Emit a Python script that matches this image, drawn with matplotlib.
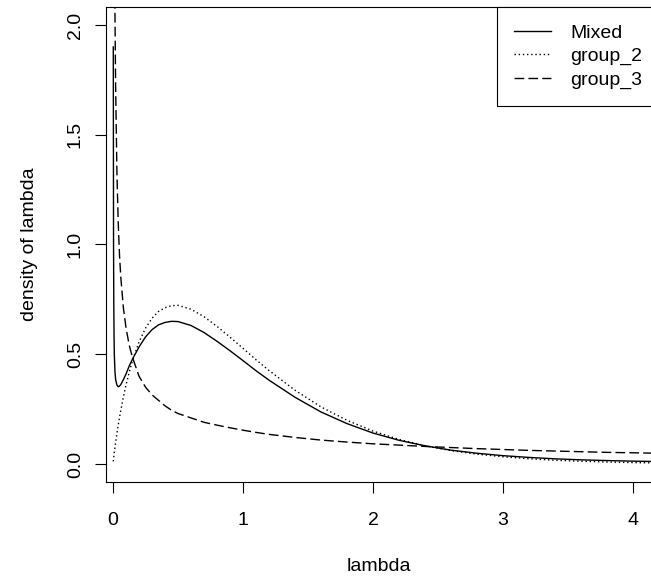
import matplotlib.pyplot as plt

# lambda grid and density values of the three curves
lam = [0.002, 0.004, 0.006, 0.008, 0.01, 0.015, 0.02, 0.03, 0.04, 0.05,
       0.06, 0.08, 0.10, 0.125, 0.15, 0.2, 0.25, 0.3, 0.35, 0.4,
       0.45, 0.5, 0.6, 0.7, 0.8, 0.9, 1.0, 1.1, 1.2, 1.4,
       1.6, 1.8, 2.0, 2.2, 2.4, 2.6, 2.8, 3.0, 3.2, 3.4,
       3.6, 3.8, 4.0, 4.2]

mixed = [1.90, 1.00, 0.72, 0.58, 0.50, 0.42, 0.385, 0.36, 0.352, 0.355,
         0.362, 0.385, 0.41, 0.447, 0.478, 0.533, 0.579, 0.612, 0.634, 0.645,
         0.650, 0.649, 0.631, 0.599, 0.559, 0.516, 0.471, 0.425, 0.382, 0.304,
         0.237, 0.184, 0.141, 0.108, 0.083, 0.063, 0.049, 0.038, 0.030, 0.0236,
         0.019, 0.0157, 0.013, 0.011]

group_2 = [0.012, 0.024, 0.034, 0.044, 0.054, 0.076, 0.098, 0.139, 0.177, 0.212,
           0.245, 0.306, 0.360, 0.419, 0.472, 0.556, 0.619, 0.664, 0.695, 0.712,
           0.721, 0.723, 0.705, 0.671, 0.627, 0.578, 0.527, 0.475, 0.426, 0.336,
           0.260, 0.199, 0.150, 0.112, 0.083, 0.061, 0.045, 0.033, 0.024, 0.017,
           0.0126, 0.0091, 0.0065, 0.0047]

group_3 = [7.0, 4.6, 3.6, 3.0, 2.6, 2.05, 1.72, 1.33, 1.10, 0.95,
           0.85, 0.71, 0.62, 0.54, 0.485, 0.40, 0.35, 0.315, 0.29, 0.265,
           0.245, 0.23, 0.21, 0.19, 0.177, 0.165, 0.154, 0.144, 0.135, 0.121,
           0.109, 0.100, 0.092, 0.086, 0.080, 0.075, 0.070, 0.066, 0.062, 0.059,
           0.056, 0.053, 0.051, 0.049]

x_ticks = [0, 1, 2, 3, 4]
y_ticks = [0.0, 0.5, 1.0, 1.5, 2.0]
y_tick_labels = ["0.0", "0.5", "1.0", "1.5", "2.0"]

plt.rcParams['font.family'] = ['Liberation Sans', 'DejaVu Sans']

fig = plt.figure(figsize=(6.51, 5.84), dpi=100)
ax = fig.add_axes([106 / 651, 102 / 584, 546.5 / 651, 475 / 584])

ax.plot(lam, mixed, color='black', lw=1.0, label='Mixed')
ax.plot(lam, group_2, color='black', lw=1.0, dashes=(1, 2), label='group_2')
ax.plot(lam, group_3, color='black', lw=1.0, dashes=(7, 3), label='group_3')

ax.set_xlim(-0.054, 4.15)
ax.set_ylim(-0.082, 2.082)
ax.set_xticks(x_ticks)
ax.set_yticks(y_ticks)
ax.set_yticklabels(y_tick_labels, rotation=90, va='center')
ax.tick_params(direction='out', length=8, width=0.8, labelsize=14)
ax.tick_params(axis='x', pad=13.5)
ax.tick_params(axis='y', pad=8)
for sp in ax.spines.values():
    sp.set_linewidth(0.8)

ax.set_xlabel('lambda', fontsize=14, labelpad=21)
ax.set_ylabel('density of lambda', fontsize=14, labelpad=21)

# legend pushed slightly past the right edge, like the clipped box
leg = ax.legend(loc='upper right', bbox_to_anchor=(1.0128, 1.0),
                borderaxespad=0, fancybox=False,
                edgecolor='black', framealpha=1, fontsize=14,
                handlelength=1.9, handletextpad=1.0, labelspacing=0.3,
                borderpad=0.88)
leg.get_frame().set_linewidth(0.8)

fig.savefig('out.png', dpi=100)
